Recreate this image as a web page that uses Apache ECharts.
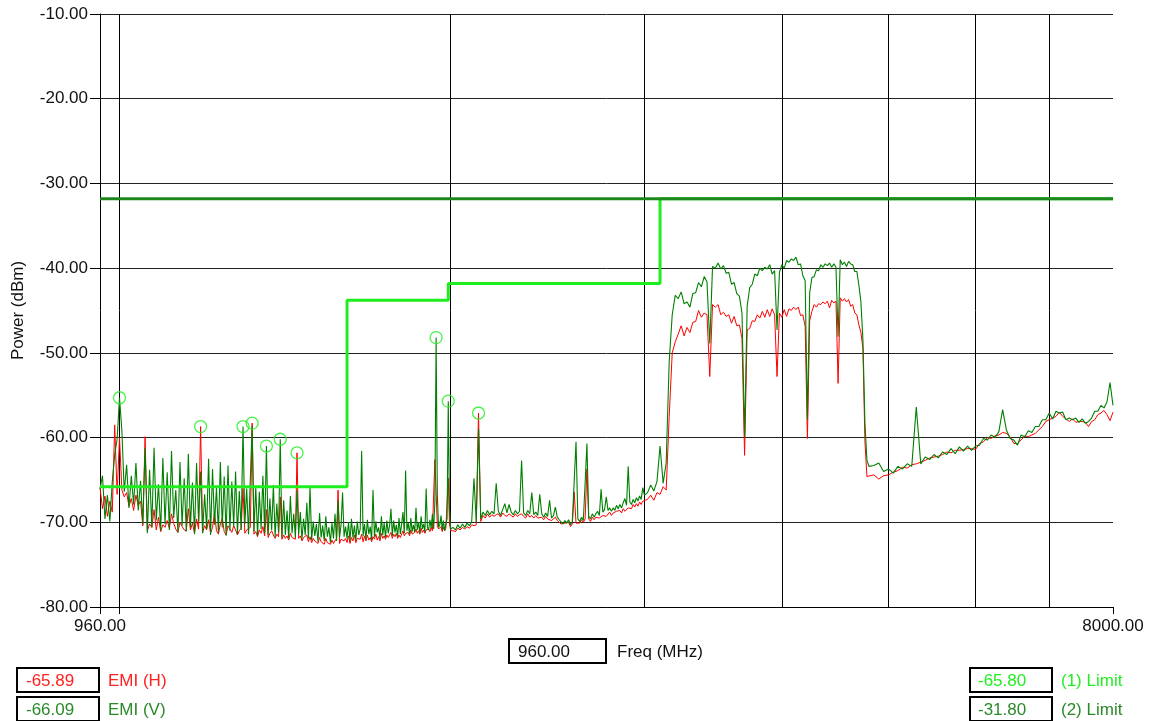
<!DOCTYPE html>
<html>
<head>
<meta charset="utf-8">
<script src="https://cdn.jsdelivr.net/npm/echarts@6/dist/echarts.min.js"></script>
<style>
html,body{margin:0;padding:0;background:#fff;}
#chart{width:1151px;height:721px;}
</style>
</head>
<body>
<div id="chart"></div>
<script>
// ---------- DATA ----------
const freqMHz = [
  // 960 - 1600, 5 MHz
  960, 965, 970, 975, 980, 985, 990, 995, 1000, 1005,
  1010, 1015, 1020, 1025, 1030, 1035, 1040, 1045, 1050, 1055,
  1060, 1065, 1070, 1075, 1080, 1085, 1090, 1095, 1100, 1105,
  1110, 1115, 1120, 1125, 1130, 1135, 1140, 1145, 1150, 1155,
  1160, 1165, 1170, 1175, 1180, 1185, 1190, 1195, 1200, 1205,
  1210, 1215, 1220, 1225, 1230, 1235, 1240, 1245, 1250, 1255,
  1260, 1265, 1270, 1275, 1280, 1285, 1290, 1295, 1300, 1305,
  1310, 1315, 1320, 1325, 1330, 1335, 1340, 1345, 1350, 1355,
  1360, 1365, 1370, 1375, 1380, 1385, 1390, 1395, 1400, 1405,
  1410, 1415, 1420, 1425, 1430, 1435, 1440, 1445, 1450, 1455,
  1460, 1465, 1470, 1475, 1480, 1485, 1490, 1495, 1500, 1505,
  1510, 1515, 1520, 1525, 1530, 1535, 1540, 1545, 1550, 1555,
  1560, 1565, 1570, 1575, 1580, 1585, 1590, 1595, 1600,
  // 1605 - 2000, 5 MHz
  1605, 1610, 1615, 1620, 1625, 1630, 1635, 1640, 1645, 1650,
  1655, 1660, 1665, 1670, 1675, 1680, 1685, 1690, 1695, 1700,
  1705, 1710, 1715, 1720, 1725, 1730, 1735, 1740, 1745, 1750,
  1755, 1760, 1765, 1770, 1775, 1780, 1785, 1790, 1795, 1800,
  1805, 1810, 1815, 1820, 1825, 1830, 1835, 1840, 1845, 1850,
  1855, 1860, 1865, 1870, 1875, 1880, 1885, 1890, 1895, 1900,
  1905, 1910, 1915, 1920, 1925, 1930, 1935, 1940, 1945, 1950,
  1955, 1960, 1965, 1970, 1975, 1980, 1985, 1990, 1995, 2000,
  // 2010 - 3000, 10 MHz
  2010, 2020, 2030, 2040, 2050, 2060, 2070, 2080, 2090, 2100,
  2110, 2120, 2130, 2140, 2150, 2160, 2170, 2180, 2190, 2200,
  2210, 2220, 2230, 2240, 2250, 2260, 2270, 2280, 2290, 2300,
  2310, 2320, 2330, 2340, 2350, 2360, 2370, 2380, 2390, 2400,
  2410, 2420, 2430, 2440, 2450, 2460, 2470, 2480, 2490, 2500,
  2510, 2520, 2530, 2540, 2550, 2560, 2570, 2580, 2590, 2600,
  2610, 2620, 2630, 2640, 2650, 2660, 2670, 2680, 2690, 2700,
  2710, 2720, 2730, 2740, 2750, 2760, 2770, 2780, 2790, 2800,
  2810, 2820, 2830, 2840, 2850, 2860, 2870, 2880, 2890, 2900,
  2910, 2920, 2930, 2940, 2950, 2960, 2970, 2980, 2990, 3000,
  // 3020 - 4800, 20 MHz
  3020, 3040, 3060, 3080, 3100, 3120, 3140, 3160, 3180, 3200,
  3220, 3240, 3260, 3280, 3300, 3320, 3340, 3360, 3380, 3400,
  3420, 3440, 3460, 3480, 3500, 3520, 3540, 3560, 3580, 3600,
  3620, 3640, 3660, 3680, 3700, 3720, 3740, 3760, 3780, 3800,
  3820, 3840, 3860, 3880, 3900, 3920, 3940, 3960, 3980, 4000,
  4020, 4040, 4060, 4080, 4100, 4120, 4140, 4160, 4180, 4200,
  4220, 4240, 4260, 4280, 4300, 4320, 4340, 4360, 4380, 4400,
  4420, 4440, 4460, 4480, 4500, 4520, 4540, 4560, 4580, 4600,
  4620, 4640, 4660, 4680, 4700, 4720, 4740, 4760, 4780, 4800,
  // 4850 - 8000, 50 MHz
  4850, 4900, 4950, 5000, 5050, 5100, 5150, 5200, 5250, 5300,
  5350, 5400, 5450, 5500, 5550, 5600, 5650, 5700, 5750, 5800,
  5850, 5900, 5950, 6000, 6050, 6100, 6150, 6200, 6250, 6300,
  6350, 6400, 6450, 6500, 6550, 6600, 6650, 6700, 6750, 6800,
  6850, 6900, 6950, 7000, 7050, 7100, 7150, 7200, 7250, 7300,
  7350, 7400, 7450, 7500, 7550, 7600, 7650, 7700, 7750, 7800,
  7850, 7900, 7950, 8000
];

// EMI (H) — red trace, dBm
const emiH = [
  -65.89, -68.4, -66.9, -69.3, -67.5, -68.8, -58.5, -66.7, -60.0, -66.2,
  -67.0, -66.5, -68.1, -67.2, -68.6, -66.8, -68.0, -67.5, -70.4, -59.9,
  -71.0, -70.2, -70.6, -68.5, -70.9, -69.4, -71.1, -70.3, -70.6, -69.8,
  -70.7, -69.0, -70.1, -70.8, -71.2, -70.0, -70.5, -70.9, -71.0, -68.4,
  -70.9, -70.1, -71.3, -69.6, -70.8, -58.7, -71.2, -70.4, -70.9, -69.7,
  -71.3, -70.6, -68.9, -71.0, -71.4, -70.2, -69.5, -71.1, -71.5, -70.4,
  -70.8, -71.2, -70.4, -70.9, -71.5, -71.0, -70.7, -66.0, -71.3, -70.9,
  -71.0, -70.6, -58.3, -71.4, -71.1, -71.7, -70.9, -71.3, -70.5, -71.6,
  -68.5, -71.8, -71.3, -71.0, -71.5, -71.9, -71.4, -71.7, -67.0, -72.0,
  -71.5, -71.9, -71.6, -72.1, -71.3, -71.8, -71.6, -72.0, -61.8, -71.9,
  -71.6, -72.2, -71.8, -72.0, -71.5, -72.3, -71.7, -72.4, -71.9, -72.2,
  -72.0, -72.5, -71.8, -72.3, -72.1, -72.6, -71.9, -72.4, -72.2, -72.6,
  -72.1, -72.5, -72.3, -71.9, -66.2, -72.5, -72.0, -71.9, -72.2,

  -71.9, -72.4, -71.6, -72.5, -71.8, -72.2, -71.5, -72.4, -71.9, -72.1,
  -72.0, -71.4, -72.3, -71.6, -72.2, -71.5, -72.1, -71.8, -72.3, -71.7,
  -72.0, -71.4, -72.1, -71.7, -72.2, -71.3, -71.9, -71.6, -72.0, -71.5,
  -71.8, -71.5, -71.2, -71.9, -71.4, -71.7, -71.3, -71.9, -71.5, -71.8,
  -71.4, -71.0, -71.6, -71.3, -71.5, -71.2, -71.6, -70.9, -71.4, -71.3,
  -71.2, -70.8, -71.3, -71.0, -71.4, -70.7, -71.2, -70.9, -71.3, -70.9,
  -71.0, -70.8, -71.1, -70.6, -71.0, -70.9, -62.6, -62.6, -70.4, -70.8,
  -70.9, -70.5, -71.1, -70.6, -71.0, -70.7, -70.5, -64.8, -70.2, -71.0,

  -71.0, -71.1, -70.7, -70.9, -70.6, -70.8, -70.5, -70.7, -70.3, -70.4,
  -70.3, -57.1, -69.9, -69.2, -69.5, -69.0, -69.4, -69.1, -69.3, -69.1,
  -69.0, -69.4, -68.9, -69.2, -69.3, -69.0, -69.2, -69.4, -69.0, -69.3,
  -69.1, -69.0, -69.3, -69.5, -69.0, -69.4, -69.2, -69.5, -69.2, -69.5,
  -69.3, -69.4, -69.7, -69.3, -69.6, -69.5, -69.8, -69.6, -69.4, -69.8,
  -70.0, -70.2, -70.4, -70.1, -70.3, -70.0, -70.5, -70.2, -66.4, -70.1,
  -69.9, -70.1, -69.7, -70.0, -69.6, -63.7, -69.6, -69.9, -69.4, -69.7,
  -69.4, -69.2, -69.5, -69.3, -69.2, -69.0, -69.3, -69.1, -68.8, -69.2,
  -68.9, -69.1, -68.7, -68.9, -68.6, -68.9, -68.4, -68.7, -68.5, -68.3,
  -68.2, -68.4, -67.9, -68.2, -67.8, -68.1, -67.6, -67.9, -67.5, -67.6,

  -67.3, -66.8, -67.4, -66.5, -66.7, -65.8, -66.2, -57.5, -50.0, -48.7,
  -47.8, -46.8, -48.0, -47.0, -47.6, -46.4, -46.3, -45.0, -45.8, -45.3,
  -45.5, -52.8, -44.3, -44.6, -44.3, -45.5, -45.2, -45.7, -45.5, -46.5,
  -45.7, -46.8, -46.7, -48.3, -62.1, -47.3, -47.1, -46.2, -46.3, -45.5,
  -45.9, -45.1, -45.8, -44.9, -45.7, -44.8, -45.5, -52.8, -45.3, -45.8,
  -44.9, -45.7, -44.8, -45.0, -44.6, -44.9, -44.6, -45.6, -45.5, -46.9,
  -60.1, -46.2, -45.1, -44.3, -44.6, -44.2, -44.3, -44.0, -44.2, -43.9,
  -44.7, -43.8, -44.1, -43.9, -53.6, -43.5, -43.9, -43.6, -44.0, -43.7,
  -44.5, -44.3, -45.3, -45.5, -46.7, -47.6, -49.5, -60.5, -64.6, -64.8,

  -64.4, -64.9, -64.5, -64.4, -64.1, -63.9, -63.5, -63.6, -63.2, -63.1,
  -62.9, -62.7, -62.4, -62.3, -62.2, -62.0, -61.7, -61.8, -61.5, -61.5,
  -61.4, -61.3, -61.3, -61.4, -60.7, -60.5, -60.0, -60.1, -59.8, -59.7,
  -59.4, -59.5, -59.9, -60.7, -60.7, -60.3, -59.8, -59.9, -59.7, -59.5,
  -59.1, -58.7, -58.1, -57.9, -57.7, -57.5, -57.0, -57.5, -57.8, -58.1,
  -57.8, -58.2, -58.1, -58.1, -58.2, -58.7, -58.1, -57.9, -57.3, -57.1,
  -56.8, -57.3, -58.0, -57.0
];

// EMI (V) — green trace, dBm
const emiV = [
  -66.09, -64.5, -69.6, -66.8, -69.9, -65.2, -62.0, -60.2, -55.3, -59.2,
  -66.4, -63.2, -68.3, -64.5, -67.9, -63.0, -68.6, -65.1, -70.2, -61.2,
  -71.3, -63.8, -70.6, -61.2, -69.8, -65.5, -71.0, -62.4, -70.2, -64.1,
  -70.9, -61.6, -69.5, -66.2, -71.2, -62.9, -70.4, -64.8, -71.1, -61.9,
  -70.6, -65.3, -71.4, -63.0, -69.9, -64.0, -71.3, -66.7, -70.8, -62.5,
  -71.5, -63.7, -70.3, -65.9, -71.2, -62.9, -70.6, -64.6, -71.6, -63.3,
  -71.0, -65.2, -70.5, -64.0, -71.4, -66.3, -70.9, -58.7, -70.2, -66.0,
  -71.4, -64.9, -58.6, -71.1, -65.8, -71.6, -66.4, -70.8, -64.5, -71.3,
  -61.0, -71.5, -67.2, -70.9, -65.6, -71.7, -67.8, -71.2, -60.2, -71.8,
  -67.4, -71.5, -68.6, -71.9, -66.9, -71.3, -69.0, -71.8, -66.2, -71.4,
  -68.8, -72.0, -69.6, -71.5, -67.7, -71.9, -65.8, -72.1, -69.9, -71.6,
  -70.2, -72.3, -68.9, -71.8, -70.4, -72.2, -69.3, -71.7, -70.6, -72.4,
  -70.1, -71.9, -69.0, -72.2, -67.4, -71.8, -70.3, -66.5, -71.7,

  -70.5, -71.9, -70.0, -72.2, -69.6, -71.8, -70.4, -72.1, -69.9, -71.5,
  -70.8, -61.6, -71.6, -70.2, -72.0, -69.7, -71.4, -70.5, -72.1, -66.2,
  -71.7, -69.9, -71.2, -70.6, -71.9, -69.3, -71.5, -70.1, -71.8, -69.8,
  -71.3, -70.4, -68.4, -71.6, -69.8, -71.2, -70.3, -71.7, -69.5, -71.4,
  -70.2, -68.8, -71.3, -63.9, -71.0, -70.1, -71.4, -69.5, -71.1, -70.3,
  -71.2, -68.3, -70.9, -70.0, -71.3, -69.3, -70.8, -70.2, -71.2, -66.0,
  -70.6, -70.9, -69.7, -70.7, -69.0, -70.8, -67.5, -48.2, -66.8, -70.6,
  -70.3, -69.2, -70.9, -69.8, -71.0, -70.2, -69.6, -55.7, -68.5, -70.8,

  -70.6, -70.9, -70.3, -70.7, -70.2, -70.6, -70.1, -70.4, -69.9, -64.8,
  -70.0, -59.0, -69.6, -68.8, -69.2, -68.6, -69.1, -68.7, -69.0, -65.4,
  -68.7, -69.2, -68.5, -67.8, -68.9, -67.9, -68.8, -69.1, -68.6, -69.0,
  -68.7, -62.7, -68.9, -69.2, -68.6, -69.0, -66.5, -69.1, -68.8, -69.2,
  -66.7, -69.0, -69.4, -68.9, -69.3, -67.4, -69.5, -69.2, -68.2, -69.4,
  -69.7, -69.9, -70.2, -69.8, -70.1, -69.7, -70.3, -69.9, -70.0, -60.5,
  -69.6, -69.9, -69.4, -69.8, -65.4, -60.7, -69.3, -69.6, -69.0, -69.4,
  -69.0, -68.7, -69.2, -66.1, -68.8, -68.5, -67.0, -68.6, -68.3, -68.7,
  -68.3, -68.6, -68.0, -68.4, -67.9, -68.3, -67.7, -67.2, -68.0, -63.4,
  -67.6, -67.9, -67.3, -67.7, -67.1, -67.5, -66.9, -67.3, -65.9, -66.8,

  -66.5, -65.6, -66.3, -65.2, -61.0, -65.4, -63.0, -51.0, -45.5, -43.2,
  -43.6, -42.8, -44.2, -44.0, -44.6, -43.0, -42.9, -41.7, -42.2, -41.0,
  -41.6, -48.9, -39.8, -40.0, -39.4, -40.1, -39.7, -40.6, -40.5, -41.9,
  -41.7, -43.0, -43.3, -45.3, -59.9, -44.5, -42.3, -41.9, -40.7, -40.9,
  -40.0, -40.3, -39.9, -40.1, -39.6, -40.7, -40.3, -47.3, -40.5, -39.6,
  -40.0, -39.1, -39.3, -38.9, -39.1, -38.7, -39.6, -39.5, -40.9, -41.5,
  -57.9, -42.9, -41.1, -41.0, -40.2, -40.3, -39.6, -39.9, -39.5, -39.7,
  -39.4, -39.9, -39.5, -39.9, -48.1, -39.0, -39.6, -39.3, -39.8, -39.2,
  -39.5, -39.6, -40.4, -40.4, -42.0, -44.0, -48.5, -58.3, -62.7, -63.4,

  -63.3, -63.0, -64.0, -63.7, -64.2, -63.4, -63.7, -63.1, -63.4, -56.4,
  -63.1, -62.3, -62.6, -62.0, -62.4, -61.7, -62.0, -61.3, -61.9, -61.1,
  -61.6, -61.0, -61.5, -61.0, -60.9, -60.1, -60.3, -59.7, -60.0, -59.3,
  -56.7, -59.1, -60.1, -60.3, -60.9, -59.7, -59.9, -59.2, -59.4, -58.7,
  -58.7, -57.9, -57.9, -57.1, -57.8, -56.9, -57.1, -57.0, -57.9, -57.7,
  -57.9, -57.7, -58.2, -57.8, -58.3, -58.1, -57.7, -56.9, -56.9, -56.2,
  -56.5, -55.8, -53.5, -56.2
];

// Limit lines (step function)
const limit1Freq  = [960, 1610, 1990, 3100, 8000];
const limit1Level = [-65.8, -43.8, -41.8, -31.8, -31.8];
const limit2Freq  = [960, 8000];
const limit2Level = [-31.8, -31.8];

// Peak markers
const peakFreq  = [1000, 1185, 1295, 1320, 1360, 1400, 1450, 1940, 1990, 2120];
const peakLevel = [-55.3, -58.7, -58.7, -58.3, -61.0, -60.2, -61.8, -48.2, -55.7, -57.1];

// Axis settings
const freqMin = 960, freqMax = 8000;
const gridFreqs = [1000, 2000, 3000, 4000, 5000, 6000, 7000];
const powerMin = -80, powerMax = -10, powerStep = 10;

// Readouts
const cursorFreq = '960.00';
const readH = '-65.89', readV = '-66.09', readL1 = '-65.80', readL2 = '-31.80';

// ---------- BUILD ----------
function zip(xs, ys) {
  const n = Math.min(xs.length, ys.length);
  const out = [];
  for (let i = 0; i < n; i++) out.push([xs[i], ys[i]]);
  return out;
}
const FONT = 'Liberation Sans, Arial, sans-serif';
const FS = 17;
const RED = '#ff0000', GREEN = '#008000', LIME = '#1eee1e', DKGREEN = '#1d871d';

const chart = echarts.init(document.getElementById('chart'), null, {renderer: 'canvas'});

function txt(x, y, text, color) {
  return {type: 'text', x: x, y: y, silent: true,
    style: {text: text, fill: color, font: FS + 'px ' + FONT, verticalAlign: 'middle', align: 'left'}};
}
function box(x, y, w, h) {
  return {type: 'rect', silent: true, shape: {x: x, y: y, width: w, height: h},
    style: {fill: '#fff', stroke: '#000', lineWidth: 2}};
}

chart.setOption({
  animation: false,
  backgroundColor: '#fff',
  grid: {left: 100, right: 38, top: 14, bottom: 114, containLabel: false, outerBoundsMode: 'none'},
  xAxis: {
    type: 'log', logBase: 10, min: freqMin, max: freqMax,
    splitLine: {show: false}, minorSplitLine: {show: false}, minorTick: {show: false},
    axisLine: {show: true, lineStyle: {color: '#000', width: 1}},
    axisTick: {show: true, length: 7, lineStyle: {color: '#000'}},
    axisLabel: {
      show: true, margin: 11, color: '#111', fontFamily: FONT, fontSize: FS, hideOverlap: false,
      showMinLabel: true, showMaxLabel: true,
      formatter: function (v) {
        if (Math.abs(v - freqMin) < 0.5 || Math.abs(v - freqMax) < 0.5) return Number(v).toFixed(2);
        return '';
      }
    }
  },
  yAxis: {
    type: 'value', min: powerMin, max: powerMax, interval: powerStep,
    name: 'Power (dBm)', nameLocation: 'middle', nameRotate: 90, nameGap: 73,
    nameTextStyle: {color: '#111', fontFamily: FONT, fontSize: FS},
    axisLine: {show: true, lineStyle: {color: '#000', width: 1}},
    axisTick: {show: true, length: 10, lineStyle: {color: '#000'}},
    axisLabel: {margin: 12, color: '#111', fontFamily: FONT, fontSize: FS,
      formatter: function (v) { return Number(v).toFixed(2); }},
    splitLine: {show: true, lineStyle: {color: '#222', width: 1}}
  },
  series: [
    {
      name: 'EMI (H)', type: 'line', data: zip(freqMHz, emiH), z: 2,
      showSymbol: false, symbol: 'none',
      lineStyle: {color: RED, width: 1}, itemStyle: {color: RED},
      markLine: {
        silent: true, z: 1, symbol: ['none', 'none'], animation: false,
        label: {show: false},
        lineStyle: {color: '#000', width: 1, type: 'solid'},
        emphasis: {disabled: true},
        data: gridFreqs.map(function (f) { return {xAxis: f}; })
      }
    },
    {
      name: 'EMI (V)', type: 'line', data: zip(freqMHz, emiV), z: 3,
      showSymbol: false, symbol: 'none',
      lineStyle: {color: GREEN, width: 1.1}, itemStyle: {color: GREEN}
    },
    {
      name: '(1) Limit', type: 'line', data: zip(limit1Freq, limit1Level), z: 4,
      step: 'end', showSymbol: false, symbol: 'none',
      lineStyle: {color: LIME, width: 3}, itemStyle: {color: LIME}
    },
    {
      name: '(2) Limit', type: 'line', data: zip(limit2Freq, limit2Level), z: 5,
      showSymbol: false, symbol: 'none',
      lineStyle: {color: DKGREEN, width: 3}, itemStyle: {color: DKGREEN}
    },
    {
      name: 'Peaks', type: 'scatter', data: zip(peakFreq, peakLevel), z: 6,
      symbol: 'circle', symbolSize: 12,
      itemStyle: {color: 'rgba(0,0,0,0)', borderColor: LIME, borderWidth: 1.3}
    }
  ],
  graphic: [
    box(509, 639, 97, 24),
    txt(518, 652, cursorFreq, '#111'),
    txt(617, 652, 'Freq (MHz)', '#111'),

    box(17, 668, 82, 24),
    txt(26, 681, readH, '#ff2020'),
    txt(108, 681, 'EMI (H)', '#ff2020'),
    box(17, 697, 82, 24),
    txt(26, 710, readV, '#2a8a2a'),
    txt(108, 710, 'EMI (V)', '#2a8a2a'),

    box(970, 668, 82, 24),
    txt(978, 681, readL1, '#22ee22'),
    txt(1061, 681, '(1) Limit', '#22ee22'),
    box(970, 697, 82, 24),
    txt(978, 710, readL2, '#2a8a2a'),
    txt(1061, 710, '(2) Limit', '#2a8a2a')
  ]
});
</script>
</body>
</html>
